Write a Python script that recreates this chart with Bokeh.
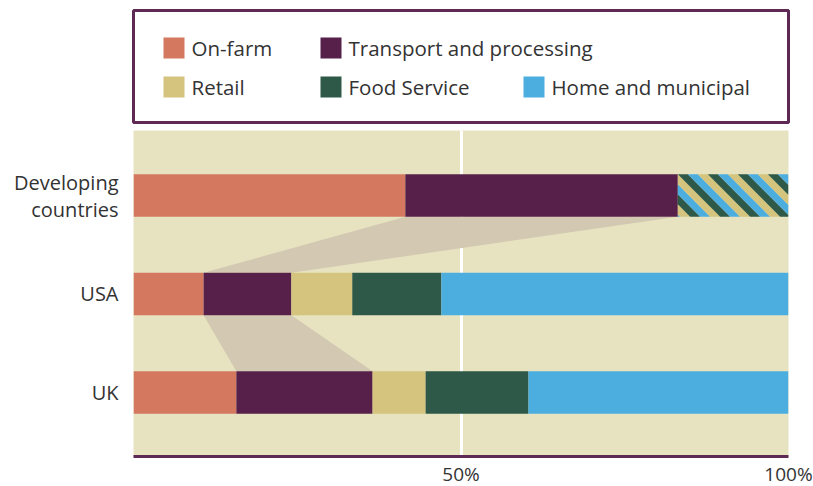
import numpy as np
from bokeh.plotting import figure
from bokeh.layouts import column
from bokeh.models import Range1d, FixedTicker
from bokeh.core.properties import value
from bokeh.embed import file_html
from bokeh.resources import INLINE

# ---------------- data ----------------
region_ticks = [0, 1, 2]
region_labels = ["UK", "USA", "Developing\ncountries"]
stages = ["On-farm", "Transport and processing", "Retail", "Food Service", "Home and municipal"]
uk_share = [15.7, 20.8, 8.1, 15.7, 39.7]
usa_share = [10.7, 13.4, 9.3, 13.6, 53.0]
developing_share = [41.5, 41.6]      # on-farm, transport and processing
developing_rest = 16.9               # retail + food service + home (hatched, not split)
x_ticks = [50, 100]
x_tick_labels = ["50%", "100%"]

# ---------------- style ----------------
FONT = "Open Sans"
TEXT = "#333333"
BEIGE = "#e7e3c1"
LINK = "#d3c8b2"
PURPLE = "#5e2a55"
stage_colors = ["#d4795f", "#57204a", "#d4c47e", "#2e5847", "#4caedf"]
BAR_H = 0.43
X0, X1 = 0, 100
Y0, Y1 = -0.65, 2.66
FRAME_W, FRAME_H = 655, 326

# ---------------- main plot ----------------
p = figure(frame_width=FRAME_W, frame_height=FRAME_H, x_range=Range1d(X0, X1), y_range=Range1d(Y0, Y1),
           output_backend="svg", toolbar_location=None,
           min_border_left=133, min_border_right=25, min_border_top=6, min_border_bottom=0)
p.background_fill_color = BEIGE
p.border_fill_color = "white"
p.outline_line_color = None
p.ygrid.grid_line_color = None
p.xgrid.ticker = FixedTicker(ticks=[50], minor_ticks=[])
p.xgrid.grid_line_color = "white"
p.xgrid.grid_line_width = 3

rows = {0: uk_share, 1: usa_share}

def seg_bounds(shares):
    r = np.cumsum(shares)
    return r - np.array(shares), r

# connectors between the transport segments
dev_l, dev_r = seg_bounds(developing_share)
usa_l, usa_r = seg_bounds(usa_share)
uk_l, uk_r = seg_bounds(uk_share)
link_xs = [[dev_l[1], dev_r[1], usa_r[1], usa_l[1]],
           [usa_l[1], usa_r[1], uk_r[1], uk_l[1]]]
link_ys = [[2 - BAR_H / 2, 2 - BAR_H / 2, 1 + BAR_H / 2, 1 + BAR_H / 2],
           [1 - BAR_H / 2, 1 - BAR_H / 2, 0 + BAR_H / 2, 0 + BAR_H / 2]]
p.patches(xs=link_xs, ys=link_ys, fill_color=LINK, line_color=None)

for yi, shares in rows.items():
    l, r = seg_bounds(shares)
    p.hbar(y=[yi] * len(shares), left=l, right=r, height=BAR_H,
           fill_color=stage_colors, line_color=None)

p.hbar(y=[2] * len(developing_share), left=dev_l, right=dev_r, height=BAR_H,
       fill_color=stage_colors[:2], line_color=None)

# hatched remainder of developing countries: diagonal stripes
def clip(poly, xmin, xmax, ymin, ymax):
    def edge(pts, inside, inter):
        out = []
        for i in range(len(pts)):
            cur, prev = pts[i], pts[i - 1]
            if inside(cur):
                if not inside(prev):
                    out.append(inter(prev, cur))
                out.append(cur)
            elif inside(prev):
                out.append(inter(prev, cur))
        return out
    def ix(a, b, v):
        t = (v - a[0]) / (b[0] - a[0]); return (v, a[1] + t * (b[1] - a[1]))
    def iy(a, b, v):
        t = (v - a[1]) / (b[1] - a[1]); return (a[0] + t * (b[0] - a[0]), v)
    pts = poly
    for inside, inter in [(lambda q: q[0] >= xmin, lambda a, b: ix(a, b, xmin)),
                          (lambda q: q[0] <= xmax, lambda a, b: ix(a, b, xmax)),
                          (lambda q: q[1] >= ymin, lambda a, b: iy(a, b, ymin)),
                          (lambda q: q[1] <= ymax, lambda a, b: iy(a, b, ymax))]:
        if not pts:
            break
        pts = edge(pts, inside, inter)
    return pts

sx = FRAME_W / (X1 - X0)
sy = FRAME_H / (Y1 - Y0)
hx0 = dev_r[-1]
hx1 = hx0 + developing_rest
htop = 2 + BAR_H / 2
W = (hx1 - hx0) * sx
H = BAR_H * sy
band = 10.0
stripe_cols = [stage_colors[3], stage_colors[4], stage_colors[2]]
sxs, sys_, scs = [], [], []
for k in range(int(np.floor(-H / band)) - 1, int(np.ceil(W / band)) + 1):
    para = [(k * band - 20, -20), ((k + 1) * band - 20, -20),
            ((k + 1) * band + H + 20, H + 20), (k * band + H + 20, H + 20)]
    pts = clip(para, 0, W, 0, H)
    if len(pts) < 3:
        continue
    sxs.append([hx0 + q[0] / sx for q in pts])
    sys_.append([htop - q[1] / sy for q in pts])
    scs.append(stripe_cols[k % 3])
p.patches(xs=sxs, ys=sys_, fill_color=scs, line_color=None)

p.xaxis.ticker = FixedTicker(ticks=x_ticks, minor_ticks=[])
p.xaxis.major_label_overrides = dict(zip(x_ticks, x_tick_labels))
p.xaxis.axis_line_color = PURPLE
p.xaxis.axis_line_width = 3
p.xaxis.major_tick_line_color = None
p.xaxis.minor_tick_line_color = None
p.xaxis.major_tick_out = 0
p.xaxis.major_tick_in = 0
p.xaxis.major_label_standoff = 4
p.xaxis.major_label_text_font = FONT
p.xaxis.major_label_text_font_size = "19px"
p.xaxis.major_label_text_line_height = 1.0
p.xaxis.major_label_text_color = TEXT

p.yaxis.ticker = FixedTicker(ticks=region_ticks, minor_ticks=[])
p.yaxis.major_label_overrides = dict(zip(region_ticks, region_labels))
p.yaxis.axis_line_color = None
p.yaxis.major_tick_line_color = None
p.yaxis.minor_tick_line_color = None
p.yaxis.major_tick_out = 0
p.yaxis.major_tick_in = 0
p.yaxis.major_label_standoff = 15
p.yaxis.major_label_text_font = FONT
p.yaxis.major_label_text_font_size = "20px"
p.yaxis.major_label_text_line_height = 1.0
p.yaxis.major_label_text_color = TEXT

# ---------------- legend panel ----------------
leg = figure(frame_width=655, frame_height=112, x_range=Range1d(0, 655), y_range=Range1d(112, 0),
             output_backend="svg", toolbar_location=None, x_axis_type=None, y_axis_type=None,
             min_border_left=133, min_border_right=25, min_border_top=10, min_border_bottom=2)
leg.outline_line_color = PURPLE
leg.outline_line_width = 3
leg.background_fill_color = "white"
leg.grid.grid_line_color = None

col_x = [30, 187, 390]
row_y = [37.5, 76.5]
slots = [(0, 0), (0, 1), (1, 0), (1, 1), (1, 2)]
sw_x = [col_x[c] + 10.5 for r, c in slots]
sw_y = [row_y[r] for r, c in slots]
tx_x = [col_x[c] + 28 for r, c in slots]
leg.rect(x=sw_x, y=sw_y, width=21, height=21, fill_color=stage_colors, line_color=None)
leg.text(x=tx_x, y=sw_y, text=stages, text_baseline="middle", text_align="left",
         text_font=value(FONT), text_font_size="20.5px", text_color=TEXT)

layout = column(leg, p)
open("out.html", "w").write(file_html(layout, INLINE))
